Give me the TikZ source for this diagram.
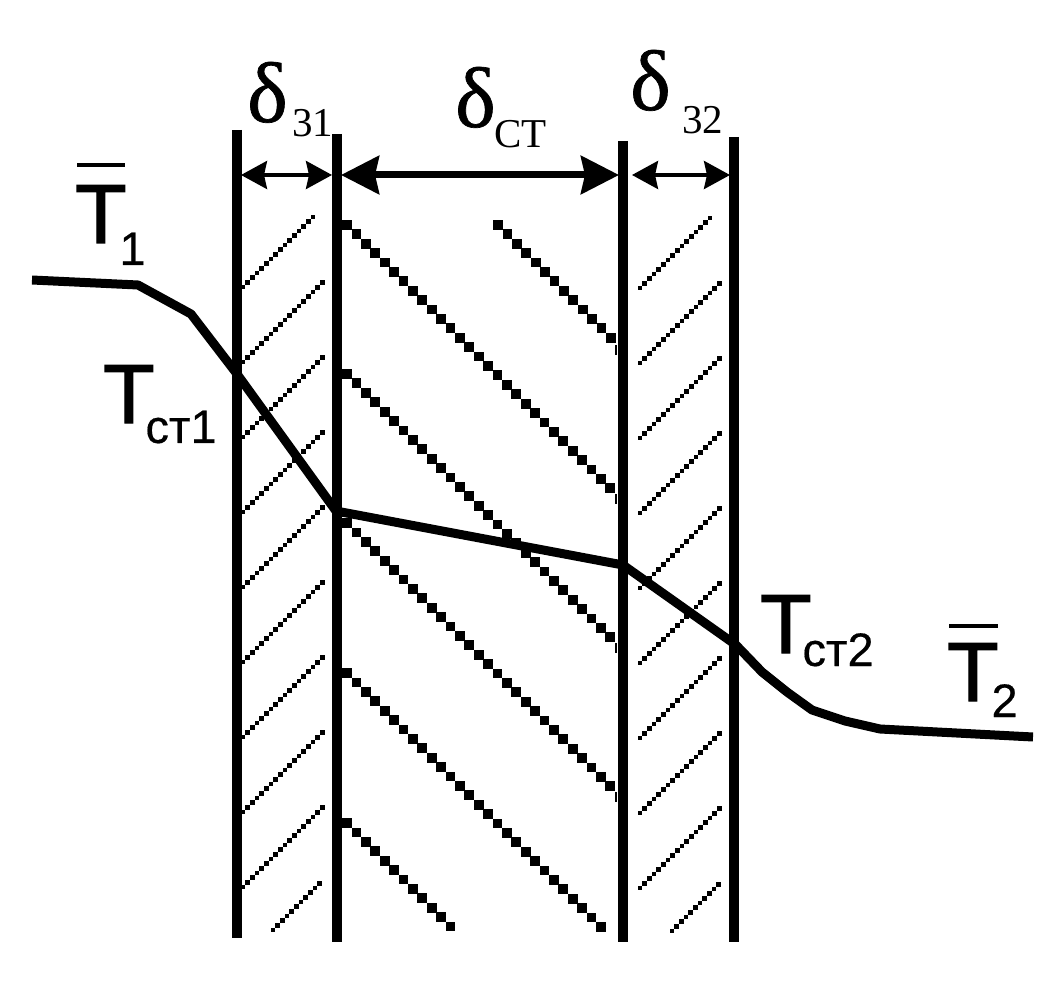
\documentclass[tikz,border=0pt]{standalone}
\usepackage{fontspec}
\setmainfont{Liberation Serif}
\newfontfamily\tfont{Liberation Sans}[FakeBold=1.6]
\newfontfamily\tsfont{Liberation Sans}[FakeBold=0.4]
\newfontfamily\dfont{Liberation Serif}[FakeBold=0.8]
\usetikzlibrary{arrows.meta}
\newcommand{\sublab}[3]{\hspace*{#1pt}\raisebox{-#2pt}{#3}}
\newcommand{\runthick}[3]{\foreach \i in {0,...,#3}
	\fill (#1+\i*9.4-4.9,#2+\i*9.4-4.9) rectangle +(9.8,9.8);}
\newcommand{\runthin}[3]{\foreach \i in {0,...,#3}
	\fill (#1+\i*4.67-2.4,#2-\i*4.67-2.4) rectangle +(4.8,4.8);}
\tikzset{%
  wall/.style={line width=9.5pt},
  dimthin/.style={line width=3.5pt,<->,>={Stealth[length=26pt,width=28pt,inset=3pt]}},
  dimthick/.style={line width=7pt,<->,>={Stealth[length=38pt,width=38pt,inset=4pt]}},
  temp/.style={line width=9pt,line join=round},
  tlab/.style={inner sep=0pt,anchor=base west,font=\tfont\fontsize{84}{84}\selectfont},
  dlab/.style={inner sep=0pt,anchor=base west,font=\dfont\fontsize{86}{86}\selectfont},
  barline/.style={line width=4pt},
}
\newcommand{\tsubfont}{\tsfont\fontsize{47}{47}\selectfont}
\newcommand{\dsubfont}{\rmfamily\fontsize{41}{41}\selectfont}
\begin{document}
\begin{tikzpicture}[x=1pt,y=-1pt]
	\useasboundingbox (0,0) rectangle (1050,1000);
	% hatching
	\runthin{243}{287}{15}
	\foreach \s in {605,680,...,1130}
		{\runthin{243}{\s-243}{17}}
	\runthin{273}{930}{10}
	\runthin{640}{288}{15}
	\foreach \s in {1003,1078,...,1528}
		{\runthin{640}{\s-640}{17}}
	\runthin{672}{931}{10}
	\runthick{498}{225}{12}
	\fill (615,345) rectangle +(2,10);
	\foreach \d in {122,-27,-176}
		{\runthick{347}{347-\d}{28}
		\fill (615,616-\d) rectangle +(2,10);}
	\runthick{347}{673}{27}
	\runthick{347}{823}{11}
	% walls
	\coordinate (w1t) at (237,130); \coordinate (w1b) at (237,938);
	\coordinate (w2t) at (337,134); \coordinate (w2b) at (337,942);
	\coordinate (w3t) at (623,141); \coordinate (w3b) at (623,942);
	\coordinate (w4t) at (734,137); \coordinate (w4b) at (734,942);
	\foreach \n in {1,2,3,4}
		\draw[wall] (w\n t) -- (w\n b);
	% dimensions
	\coordinate (d1l) at (241,175); \coordinate (d1r) at (332,175);
	\coordinate (d2l) at (341,175); \coordinate (d2r) at (619,175);
	\coordinate (d3l) at (632,175); \coordinate (d3r) at (730,175);
	\draw[dimthin] (d1l) -- (d1r);
	\draw[dimthick] (d2l) -- (d2r);
	\draw[dimthin] (d3l) -- (d3r);
	% temperature
	\coordinate (p0) at (32,280); \coordinate (p1) at (138,285);
	\coordinate (p2) at (191,314); \coordinate (p3) at (237,374);
	\coordinate (p4) at (336,511); \coordinate (p5) at (623,565);
	\coordinate (p6) at (736,645); \coordinate (p7) at (762,672);
	\coordinate (p8) at (787,692); \coordinate (p9) at (812,710);
	\coordinate (p10) at (845,721); \coordinate (p11) at (880,729);
	\coordinate (p12) at (1033,737);
	\draw[temp] (p0) -- (p1) -- (p2) -- (p3) -- (p4) -- (p5) -- (p6) -- (p7)
		-- (p8) -- (p9) -- (p10) -- (p11) -- (p12);
	% labels
	\node[dlab] (dz1) at (247,122) {δ};
	\node[dlab] (dz1s) at (292,137) {\dsubfont 31};
	\node[dlab] (dc) at (455,127) {δ};
	\node[dlab] (dcs) at (494,148) {\dsubfont СТ};
	\node[dlab] (dz2) at (630,110) {δ};
	\node[dlab] (dz2s) at (682,134) {\dsubfont 32};
	\node[tlab] (t1) at (75,243) {T\sublab{-7}{22}{\tsubfont 1}};
	\node[tlab] (ts1) at (103,423) {T\sublab{-9}{20}{\tsubfont ст1}};
	\node[tlab] (ts2) at (760,653) {T\sublab{-9}{13}{\tsubfont ст2}};
	\node[tlab] (t2) at (947,701) {T\sublab{-7}{16}{\tsubfont 2}};
	\coordinate (b1l) at (77,165); \coordinate (b1r) at (125,165);
	\coordinate (b2l) at (949,626); \coordinate (b2r) at (998,626);
	\draw[barline] (b1l) -- (b1r);
	\draw[barline] (b2l) -- (b2r);
\end{tikzpicture}
\end{document}
